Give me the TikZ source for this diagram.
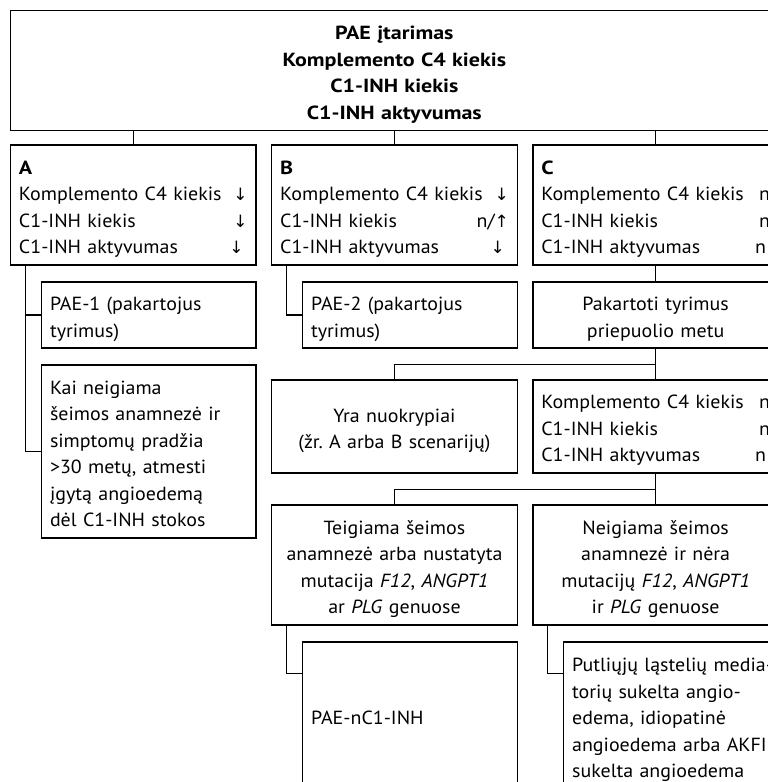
\documentclass[tikz,border=0pt]{standalone}
\usepackage{fontspec}
\setmainfont{PT Sans}[FakeStretch=1.05, BoldFeatures={FakeStretch=1.16}]
\newfontfamily\arrowfont{DejaVu Sans}
\newcommand\arrdown{{\arrowfont\fontsize{17}{17}\selectfont ↓}}
\newcommand\arrup{{\arrowfont\fontsize{17}{17}\selectfont ↑}}
\newcommand\rt[1]{\nobreak\hfill#1\hspace*{4pt}}
\newcommand\bstrut{\rule[-4.5pt]{0pt}{26.5pt}}
\newcommand\boxfont{\fontsize{19}{26.5}\selectfont\hyphenpenalty=10000\exhyphenpenalty=10000}

\begin{document}
\begin{tikzpicture}[
	x=1pt, y=-1pt,
	box/.style={ draw, line width=1.1pt, inner sep=0pt, font=\boxfont, execute at begin node=\bstrut, execute at end node=\bstrut },
	topbox/.style={ box, minimum width=767.3pt, text width=750pt, align=center, font=\boxfont\bfseries },
	colbox/.style={ box, minimum width=245.3pt, text width=228.7pt },
	subbox/.style={ box, minimum width=214.3pt, text width=197.7pt },
	link/.style={ line width=1.1pt }
]
\useasboundingbox (0,0) rectangle (768,782);
\fill[white] (0,0) rectangle (768,782);
\clip (0,0) rectangle (768,782);

% suspicion and tests
\node at (394.35,70.7) (top) [topbox, minimum height=120pt] {PAE įtarimas\\Komplemento C4 kiekis\\C1-INH kiekis\\C1-INH aktyvumas};

% scenarios A, B, C
\node at (133.35,205) (a) [colbox, minimum height=120pt, align=left] {\textbf{A}\\Komplemento~C4~kiekis\rt{\arrdown}\\C1-INH~kiekis\rt{\arrdown}\\C1-INH~aktyvumas\rt{\arrdown}};
\node at (394.5,205) (b) [colbox, minimum height=120pt, align=left] {\textbf{B}\\Komplemento~C4~kiekis\rt{\arrdown}\\C1-INH~kiekis\rt{n/\arrup}\\C1-INH~aktyvumas\rt{\arrdown}};
\node at (655.65,205) (c) [colbox, minimum height=120pt, align=left] {\textbf{C}\\Komplemento~C4~kiekis\rt{n}\\C1-INH~kiekis\rt{n}\\C1-INH~aktyvumas\rt{n}};
\foreach \p in {a,b,c} \draw[link] (top.south -| \p.north) to (\p.north);

% column A
\node at (148.85,315) (pae1) [subbox, minimum height=66pt, align=left] {PAE-1 (pakartojus\\tyrimus)};
\node at (148.85,451.5) (kai) [subbox, minimum height=173pt, align=left] {Kai neigiama\\šeimos~anamnezė~ir\\simptomų~pradžia\\>30~metų,~atmesti\\įgytą~angioedemą\\dėl~C1-INH~stokos};
\foreach \p in {pae1,kai} \draw[link] ([xshift=15pt]a.south west) |- (\p.west);

% column B
\node at (410,315) (pae2) [subbox, minimum height=66pt, align=left] {PAE-2 (pakartojus\\tyrimus)};
\draw[link] ([xshift=15pt]b.south west) |- (pae2.west);

% column C, repeated tests
\node at (655.65,315) (pak) [colbox, minimum height=66pt, align=center] {Pakartoti tyrimus\\priepuolio metu};
\draw[link] (c.south) to (pak.north);

\node at (394.5,426.5) (yra) [colbox, minimum height=93pt, align=center] {Yra nuokrypiai\\(žr.~A~arba~B~scenarijų)};
\node at (655.65,426.5) (cc) [colbox, minimum height=93pt, align=left] {Komplemento~C4~kiekis\rt{n}\\C1-INH~kiekis\rt{n}\\C1-INH~aktyvumas\rt{n}};
\draw[link] (pak.south) to (cc.north);
\draw[link] (pak.south) -- ++(0,16) -| (yra.north);

% family history
\node at (394.5,565) (teig) [colbox, minimum height=120pt, align=center] {Teigiama šeimos\\anamnezė~arba~nustatyta\\mutacija~\textit{F12},~\textit{ANGPT1}\\ar \textit{PLG} genuose};
\node at (655.65,565) (neig) [colbox, minimum height=120pt, align=center] {Neigiama šeimos\\anamnezė ir nėra\\mutacijų~\textit{F12},~\textit{ANGPT1}\\ir \textit{PLG} genuose};
\draw[link] (cc.south) to (neig.north);
\draw[link] (cc.south) -- ++(0,16) -| (teig.north);

% diagnoses
\node at (410,716) (paen) [subbox, minimum height=148pt, align=left] {PAE-nC1-INH};
\node at (671,716) (putl) [subbox, minimum height=148pt, align=left] {Putliųjų~ląstelių~media-\\torių~sukelta~angio-\\edema,~idiopatinė\\angioedema~arba~AKFI\\sukelta~angioedema};
\draw[link] ([xshift=15pt]teig.south west) |- ([yshift=-32pt]paen.north west);
\draw[link] ([xshift=15pt]neig.south west) |- ([yshift=-32pt]putl.north west);

\end{tikzpicture}
\end{document}
